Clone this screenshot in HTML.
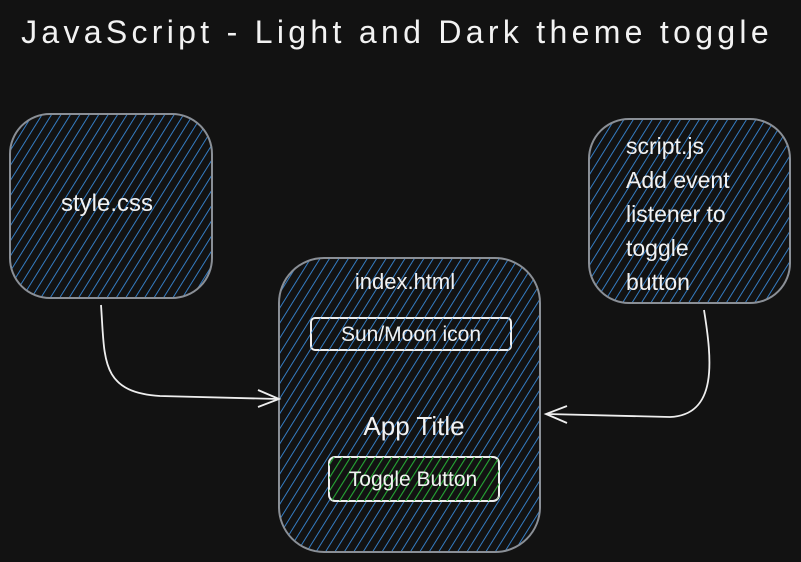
<!DOCTYPE html>
<html><head><style>
html,body{margin:0;padding:0;background:#121212;width:801px;height:562px;overflow:hidden}
text{font-family:"Liberation Sans",sans-serif;fill:#f2f2f2}
</style></head><body>
<svg width="801" height="562" viewBox="0 0 801 562" xmlns="http://www.w3.org/2000/svg">
<defs>
<pattern id="h" width="8" height="8" patternUnits="userSpaceOnUse" patternTransform="rotate(32)">
<line x1="0" y1="0" x2="0" y2="8" stroke="#3a8ee0" stroke-width="1.7"/>
</pattern>
<pattern id="g" width="7" height="7" patternUnits="userSpaceOnUse" patternTransform="rotate(32)">
<line x1="0" y1="0" x2="0" y2="7" stroke="#26a835" stroke-width="2.2"/>
</pattern>
</defs>
<rect width="801" height="562" fill="#121212"/>
<text x="397" y="43" font-size="32" text-anchor="middle" letter-spacing="4.3">JavaScript - Light and Dark theme toggle</text>

<rect x="10" y="114" width="202" height="184" rx="40" fill="url(#h)" stroke="#8a8f96" stroke-width="2"/>
<text x="107" y="211" font-size="24" text-anchor="middle">style.css</text>

<rect x="589" y="119" width="201" height="184" rx="40" fill="url(#h)" stroke="#8a8f96" stroke-width="2"/>
<text x="626" y="154" font-size="23">script.js</text>
<text x="626" y="188" font-size="23">Add event</text>
<text x="626" y="222" font-size="23">listener to</text>
<text x="626" y="256" font-size="23">toggle</text>
<text x="626" y="290" font-size="23">button</text>

<rect x="279" y="258" width="261" height="294" rx="45" fill="url(#h)" stroke="#8a8f96" stroke-width="2"/>
<text x="405" y="289" font-size="22" text-anchor="middle">index.html</text>
<rect x="311" y="318" width="200" height="32" rx="4" fill="#121212" stroke="#eee" stroke-width="2"/>
<rect x="311" y="318" width="200" height="32" rx="4" fill="url(#h)"/>
<text x="411" y="341" font-size="21" text-anchor="middle">Sun/Moon icon</text>
<text x="414" y="435" font-size="26" text-anchor="middle">App Title</text>
<rect x="329" y="457" width="170" height="44" rx="6" fill="#121212" stroke="#eee" stroke-width="2"/>
<rect x="329" y="457" width="170" height="44" rx="6" fill="url(#g)"/>
<text x="413" y="486" font-size="21" text-anchor="middle">Toggle Button</text>

<path d="M101 305 C105 360,100 392,160 396 L278 399" fill="none" stroke="#eee" stroke-width="1.8"/>
<path d="M258 390 L279 399 L258 407" fill="none" stroke="#eee" stroke-width="1.8"/>
<path d="M704 310 C712 360,718 415,670 417 L547 414" fill="none" stroke="#eee" stroke-width="1.8"/>
<path d="M567 406 L546 414 L567 423" fill="none" stroke="#eee" stroke-width="1.8"/>
</svg>
</body></html>
